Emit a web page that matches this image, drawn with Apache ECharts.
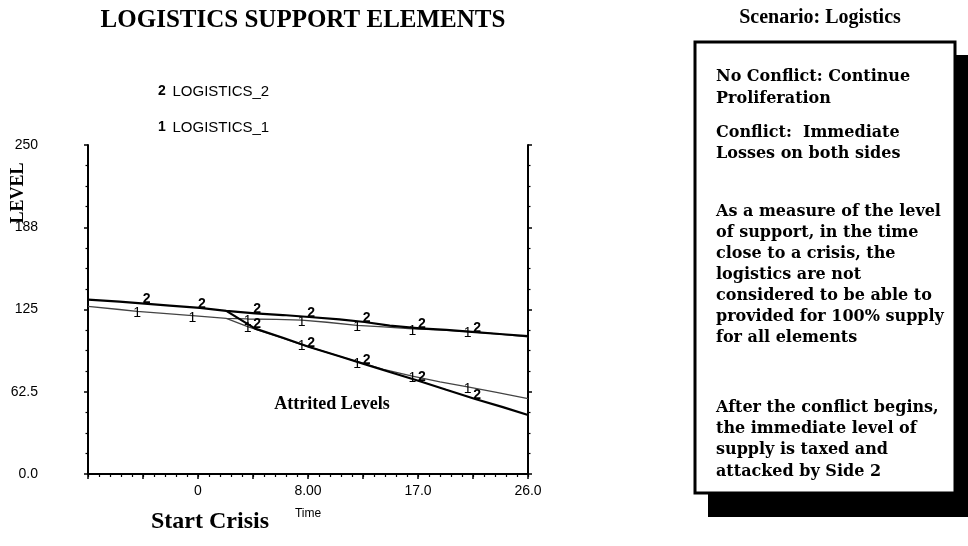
<!DOCTYPE html>
<html><head><meta charset="utf-8">
<script src="https://cdn.jsdelivr.net/npm/echarts@6/dist/echarts.min.js"></script>
<style>html,body{margin:0;padding:0;background:#fff}#c{width:968px;height:546px}</style>
</head><body><div id="c"></div>
<script>
// ---- data ----
const time2 = [-9, -6.5, -4.5, -2.5, -0.1, 2, 4.3, 6.5, 8.6, 11, 13.0, 15, 17.4, 19.5, 21.8, 24, 26];
const noConflict2 = [132.5, 131, 129.5, 128, 126.2, 124, 122, 120.8, 119.3, 117.5, 115.5, 112.8, 110.7, 109.5, 107.8, 106.2, 104.8];
const time1 = [-9, -6.5, -5.1, -3, -0.7, 2, 3.7, 6, 8.0, 10, 12.4, 14.5, 16.8, 19, 21.2, 23.5, 26];
const noConflict1 = [127.3, 125, 123.5, 122, 120.3, 118.3, 117.8, 117.5, 117, 115.3, 113, 111.8, 110.3, 109.5, 108.3, 106.5, 104.3];
const attritedTime2 = [2, 4.3, 6.5, 8.6, 11, 13.0, 15, 17.4, 19.5, 21.8, 24, 26];
const attrited2 = [124, 110.5, 103.5, 96.5, 89.5, 83.5, 77.5, 70.5, 64, 57, 50.8, 44.8];
const attritedTime1 = [2, 3.7, 6, 8.0, 10, 12.4, 14.5, 16.8, 19, 21.2, 23.5, 26];
const attrited1 = [118.3, 112, 104.8, 98.3, 92.5, 85.3, 79.5, 74.3, 70, 66.2, 62, 57.3];
const markerTimes2 = [-4.5, -0.1, 4.3, 8.6, 13.0, 17.4, 21.8];
const markerTimes1 = [-5.1, -0.7, 3.7, 8.0, 12.4, 16.8, 21.2];
const yTicks = [0, 62.5, 125, 187.5, 250];
const yTickLabels = ['0.0', '62.5', '125', '188', '250'];
const xLabelTimes = [-0.25, 8.5, 17.25, 26];
const xTickLabels = ['0', '8.00', '17.0', '26.0'];
const seriesNames = ['LOGISTICS_2', 'LOGISTICS_1'];

// ---- chart ----
const X_MIN = -9, X_MAX = 26;
const majorTicks = [], minorTicks = [];
for (let i = 0; i <= 8; i++) majorTicks.push(X_MIN + i * (X_MAX - X_MIN) / 8);
for (let i = 0; i <= 40; i++) minorTicks.push(X_MIN + i * (X_MAX - X_MIN) / 40);

function pts(ts, vs, marks) {
  return ts.map((t, i) => ({ value: [t, vs[i]], label: { show: marks.indexOf(t) >= 0 } }));
}
function findLabel(vals, labels, v) {
  for (let i = 0; i < vals.length; i++) if (Math.abs(vals[i] - v) < 1e-6) return labels[i];
  return '';
}
const SANS = '"Liberation Sans", Arial, sans-serif';
const SERIF = '"Liberation Serif", "Times New Roman", serif';
const BOXSERIF = '"DejaVu Serif", serif';

function lineSeries(name, data, color, width, num, z) {
  return {
    name: name, type: 'line', data: data, z: z, silent: true,
    symbol: 'circle', symbolSize: 1, showSymbol: true, showAllSymbol: true,
    itemStyle: { color: 'rgba(0,0,0,0)', borderWidth: 0 },
    lineStyle: { color: color, width: width },
    emphasis: { disabled: true },
    label: {
      show: false, formatter: num, color: '#000',
      fontFamily: SANS, fontWeight: num === '1' ? 'normal' : 'bold', fontSize: 14,
      position: 'inside',
      offset: num === '1' ? [0, 2] : [2, -4]
    }
  };
}

const yAxisBase = {
  type: 'value', min: 0, max: 250, interval: 62.5,
  axisLine: { show: true, onZero: false, lineStyle: { color: '#000', width: 2 } },
  axisTick: { show: true, length: 4, lineStyle: { color: '#000', width: 1.5 } },
  minorTick: { show: true, splitNumber: 4, length: 2.5, lineStyle: { color: '#000', width: 1.2 } },
  splitLine: { show: false }, minorSplitLine: { show: false }
};

const option = {
  animation: false,
  backgroundColor: '#fff',
  grid: { left: 88, right: 440, top: 145, bottom: 72 },
  legend: {
    data: seriesNames, orient: 'vertical', left: 153, top: 84, padding: 0,
    icon: 'none', itemWidth: 0, itemHeight: 14, itemGap: 21, selectedMode: false,
    formatter: n => '{n|' + n.slice(-1) + '}  {t|' + n + '}',
    textStyle: {
      color: '#000',
      rich: {
        n: { fontFamily: SANS, fontWeight: 'bold', fontSize: 14, color: '#000' },
        t: { fontFamily: SANS, fontSize: 15, color: '#000' }
      }
    }
  },
  xAxis: [{
    type: 'value', min: X_MIN, max: X_MAX, position: 'bottom',
    axisLine: { onZero: false, lineStyle: { color: '#000', width: 2 } },
    axisTick: { show: true, customValues: majorTicks, length: 5, lineStyle: { color: '#000', width: 1.5 } },
    axisLabel: {
      customValues: xLabelTimes, formatter: v => findLabel(xLabelTimes, xTickLabels, v),
      margin: 10, color: '#000', fontFamily: SANS, fontSize: 14
    },
    splitLine: { show: false },
    name: 'Time', nameLocation: 'middle', nameGap: 34,
    nameTextStyle: { color: '#000', fontFamily: SANS, fontSize: 12 }
  }, {
    type: 'value', min: X_MIN, max: X_MAX, position: 'bottom',
    axisLine: { show: false, onZero: false },
    axisTick: { show: true, customValues: minorTicks, length: 3, lineStyle: { color: '#000', width: 1.2 } },
    axisLabel: { show: false }, splitLine: { show: false }
  }],
  yAxis: [
    Object.assign({}, yAxisBase, {
      position: 'left',
      axisLabel: {
        formatter: v => findLabel(yTicks, yTickLabels, v), margin: 50,
        color: '#000', fontFamily: SANS, fontSize: 14
      }
    }),
    Object.assign({}, yAxisBase, { position: 'right', axisLabel: { show: false } })
  ],
  series: [
    lineSeries(seriesNames[1], pts(time1, noConflict1, markerTimes1), '#444', 1.3, '1', 2),
    lineSeries(seriesNames[0], pts(time2, noConflict2, markerTimes2), '#000', 2.2, '2', 3),
    lineSeries(seriesNames[1], pts(attritedTime1, attrited1, markerTimes1), '#444', 1.3, '1', 2),
    lineSeries(seriesNames[0], pts(attritedTime2, attrited2, markerTimes2), '#000', 2.2, '2', 3)
  ],
  graphic: [
    { type: 'text', x: 303, y: 21, z: 10, style: { text: 'LOGISTICS SUPPORT ELEMENTS', font: 'bold 25px ' + SERIF, fill: '#000', align: 'center', verticalAlign: 'middle' } },
    { type: 'text', x: 820, y: 18, z: 10, style: { text: 'Scenario: Logistics', font: 'bold 20px ' + SERIF, fill: '#000', align: 'center', verticalAlign: 'middle' } },
    { type: 'text', x: 18, y: 193, rotation: Math.PI / 2, z: 10, style: { text: 'LEVEL', font: 'bold 18px ' + SERIF, fill: '#000', align: 'center', verticalAlign: 'middle' } },
    { type: 'text', x: 332, y: 404, z: 10, style: { text: 'Attrited Levels', font: 'bold 18px ' + SERIF, fill: '#000', align: 'center', verticalAlign: 'middle' } },
    { type: 'text', x: 210, y: 522, z: 10, style: { text: 'Start Crisis', font: 'bold 24px ' + SERIF, fill: '#000', align: 'center', verticalAlign: 'middle' } },
    { type: 'rect', z: 5, shape: { x: 708, y: 55, width: 262, height: 462 }, style: { fill: '#000' } },
    { type: 'rect', z: 6, shape: { x: 695, y: 42, width: 260, height: 451 }, style: { fill: '#fff', stroke: '#000', lineWidth: 3 } },
    { type: 'text', x: 716, y: 66, z: 10, style: { text: 'No Conflict: Continue\nProliferation', font: 'bold 16px ' + BOXSERIF, lineHeight: 22, fill: '#000', align: 'left', verticalAlign: 'top' } },
    { type: 'text', x: 716, y: 122, z: 10, style: { text: 'Conflict:  Immediate\nLosses on both sides', font: 'bold 16px ' + BOXSERIF, lineHeight: 21, fill: '#000', align: 'left', verticalAlign: 'top' } },
    { type: 'text', x: 716, y: 201, z: 10, style: { text: 'As a measure of the level\nof support, in the time\nclose to a crisis, the\nlogistics are not\nconsidered to be able to\nprovided for 100% supply\nfor all elements', font: 'bold 16px ' + BOXSERIF, lineHeight: 21, fill: '#000', align: 'left', verticalAlign: 'top' } },
    { type: 'text', x: 716, y: 397, z: 10, style: { text: 'After the conflict begins,\nthe immediate level of\nsupply is taxed and\nattacked by Side 2', font: 'bold 16px ' + BOXSERIF, lineHeight: 21.3, fill: '#000', align: 'left', verticalAlign: 'top' } }
  ]
};
const chart = echarts.init(document.getElementById('c'), null, { renderer: 'canvas' });
chart.setOption(option);
</script>
</body></html>
